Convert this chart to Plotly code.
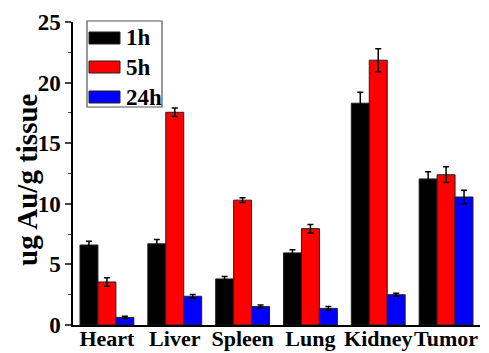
import plotly.graph_objects as go

categories = ["Heart", "Liver", "Spleen", "Lung", "Kidney", "Tumor"]
series_names = ["1h", "5h", "24h"]
vals_1h = [6.6, 6.7, 3.8, 5.95, 18.3, 12.05]
err_1h = [0.3, 0.35, 0.2, 0.25, 0.9, 0.6]
vals_5h = [3.55, 17.55, 10.3, 7.95, 21.85, 12.4]
err_5h = [0.35, 0.35, 0.2, 0.35, 0.95, 0.65]
vals_24h = [0.63, 2.37, 1.52, 1.37, 2.5, 10.56]
err_24h = [0.1, 0.15, 0.12, 0.15, 0.12, 0.55]
colors = ["#000000", "#ff0000", "#0000ff"]
y_ticks = [0, 5, 10, 15, 20, 25]
y_title = "ug Au/g tissue"

FONT = "'Liberation Serif', 'Times New Roman', 'DejaVu Serif', serif"

fig = go.Figure()
for name, vals, errs, col in zip(series_names, [vals_1h, vals_5h, vals_24h],
                                 [err_1h, err_5h, err_24h], colors):
    fig.add_trace(go.Bar(
        x=categories, y=vals, name=name,
        marker=dict(color=col, line=dict(color="#222222", width=1)),
        error_y=dict(type="data", array=errs, visible=True,
                     color="#000000", thickness=1.5, width=3),
        showlegend=False,
    ))

# pixel -> paper helpers for the plot area
px_l, px_r, px_t, px_b = 73, 480, 22, 325
def px(x):
    return (x - px_l) / (px_r - px_l)
def py(y):
    return (px_b - y) / (px_b - px_t)

# custom legend (wide rectangular swatches like the original)
fig.add_shape(type="rect", xref="paper", yref="paper",
              x0=px(87), x1=px(162), y0=py(107), y1=py(21),
              line=dict(color="#555555", width=1.2), fillcolor="white", layer="above")
row_y = [38, 67, 97]
for name, col, ry in zip(series_names, colors, row_y):
    fig.add_shape(type="rect", xref="paper", yref="paper",
                  x0=px(89), x1=px(120), y0=py(ry + 6), y1=py(ry - 6),
                  line=dict(color="#222222", width=1), fillcolor=col, layer="above")
    fig.add_annotation(xref="paper", yref="paper", x=px(124), y=py(ry),
                       text=name, showarrow=False, xanchor="left", yanchor="middle",
                       font=dict(family=FONT, size=23, color="black", weight="bold"))

# y-axis title
fig.add_annotation(xref="paper", yref="paper", x=px(27), y=py(180),
                   text=y_title, textangle=-90, showarrow=False,
                   xanchor="center", yanchor="middle",
                   font=dict(family=FONT, size=29, color="black", weight="bold"))

fig.update_layout(
    width=489, height=353,
    margin=dict(l=73, r=9, t=22, b=28, autoexpand=False),
    paper_bgcolor="white", plot_bgcolor="white",
    barmode="group", bargap=0.206, bargroupgap=0,
    font=dict(family=FONT, size=22, color="black", weight="bold"),
    xaxis=dict(range=[-0.5, 5.5], showline=True, linecolor="black", linewidth=1.5,
               ticks="", showgrid=False, zeroline=False, tickangle=0, automargin=False,
               tickfont=dict(family=FONT, size=22, weight="bold"), ticklabelstandoff=-7),
    yaxis=dict(range=[0, 25], tickvals=y_ticks, showline=True, linecolor="black",
               linewidth=1.5, ticks="outside", ticklen=6, tickwidth=1.5, automargin=False,
               minor=dict(dtick=2.5, ticks="outside", ticklen=3, tickwidth=1.2, showgrid=False),
               showgrid=False, zeroline=False,
               tickfont=dict(family=FONT, size=23, weight="bold")),
)

fig.write_html("out.html")
